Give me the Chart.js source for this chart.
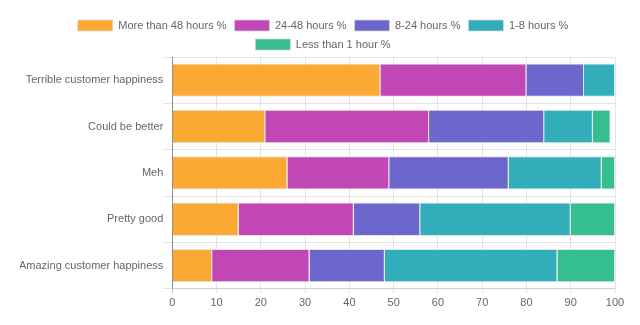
<!DOCTYPE html>
<html>
<head>
<meta charset="utf-8">
<script src="https://cdn.jsdelivr.net/npm/chart.js@4/dist/chart.umd.min.js"></script>
<style>
html,body{margin:0;padding:0;background:#fff;}
#wrap{width:640px;height:325px;position:relative;}
</style>
</head>
<body>
<div id="wrap"><canvas id="c"></canvas></div>
<script>
const categories = ["Terrible customer happiness","Could be better","Meh","Pretty good","Amazing customer happiness"];
const seriesNames = ["More than 48 hours %","24-48 hours %","8-24 hours %","1-8 hours %","Less than 1 hour %"];
const more48 = [47, 21, 26, 15, 9];
const h24to48 = [33, 37, 23, 26, 22];
const h8to24 = [13, 26, 27, 15, 17];
const h1to8 = [7, 11, 21, 34, 39];
const less1 = [0, 4, 3, 10, 13];
const colors = ["#FBA933","#C146B6","#6C67CD","#31AEB9","#35BE8E"];
const borderTint = "rgba(215,215,215,0.7)";
const xTicks = [0,10,20,30,40,50,60,70,80,90,100];

const seriesValues = [more48, h24to48, h8to24, h1to8, less1];
Chart.defaults.font.family = "'Liberation Sans', Arial, sans-serif";
Chart.defaults.font.size = 11;
Chart.defaults.color = '#666';

const legendGap = {
  id: 'legendGap',
  beforeInit(chart) {
    const lg = chart.legend;
    if (!lg) return;
    const f = lg.fit.bind(lg);
    lg.fit = function() { f(); this.height -= 3; };
  },
  afterLayout(chart) {
    const lg = chart.legend;
    if (lg) { lg.left += 11; }
  }
};

new Chart(document.getElementById('c'), {
  type: 'bar',
  data: {
    labels: categories,
    datasets: seriesNames.map((n,i)=>({
      label: n,
      data: seriesValues[i],
      backgroundColor: colors[i],
      borderColor: borderTint,
      borderWidth: 1
    }))
  },
  plugins: [legendGap],
  options: {
    indexAxis: 'y',
    responsive: true,
    maintainAspectRatio: false,
    animation: false,
    layout: {padding: {left: 20, right: 25, top: 12, bottom: 11}},
    plugins: {
      legend: {
        position: 'top',
        labels: {boxWidth: 35, boxHeight: 11, padding: 8, color: '#666'}
      },
      tooltip: {enabled: false}
    },
    scales: {
      x: {
        stacked: true,
        min: 0, max: 100,
        afterBuildTicks: (s)=>{ s.ticks = xTicks.map(v=>({value:v})); },
        grid: {color: (ctx)=> ctx.tick && ctx.tick.value === 0 ? 'rgba(0,0,0,0.25)' : 'rgba(0,0,0,0.1)', tickLength: 4},
        border: {color: 'rgba(0,0,0,0.1)'},
        ticks: {color: '#666', padding: 4}
      },
      y: {
        stacked: true,
        grid: {color: 'rgba(0,0,0,0.1)', tickLength: 10},
        border: {color: 'rgba(0,0,0,0.25)'},
        ticks: {color: '#666', padding: -1}
      }
    }
  }
});
</script>
</body>
</html>
